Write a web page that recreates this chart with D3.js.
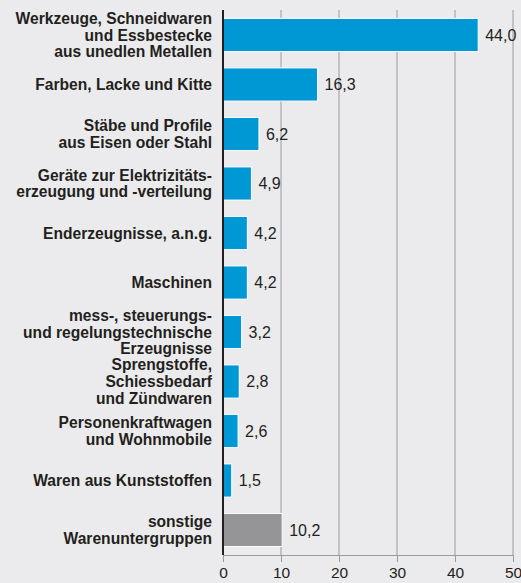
<!DOCTYPE html>
<html lang="de">
<head>
    <meta charset="UTF-8">
    <title>Warenuntergruppen</title>
    <script src="https://d3js.org/d3.v7.min.js"></script>
    <style>
        html, body {
            margin: 0;
            padding: 0;
            background: #ebebed;
        }
        svg {
            display: block;
            font-family: "Liberation Sans", Arial, Helvetica, sans-serif;
        }
        .cat-label {
            font-size: 15.6px;
            font-weight: bold;
            fill: #231f20;
        }
        .val-label {
            font-size: 16px;
            fill: #231f20;
        }
        .x-axis text {
            font-size: 15.5px;
            fill: #231f20;
            font-family: "Liberation Sans", Arial, Helvetica, sans-serif;
        }
    </style>
</head>
<body>
    <svg id="chart" width="521" height="583"></svg>

    <script>
        // Kategorien (Zeilenumbrüche wie im Original)
        const categories = [
            ["Werkzeuge, Schneidwaren", "und Essbestecke", "aus unedlen Metallen"],
            ["Farben, Lacke und Kitte"],
            ["Stäbe und Profile", "aus Eisen oder Stahl"],
            ["Geräte zur Elektrizitäts-", "erzeugung und -verteilung"],
            ["Enderzeugnisse, a.n.g."],
            ["Maschinen"],
            ["mess-, steuerungs-", "und regelungstechnische", "Erzeugnisse"],
            ["Sprengstoffe,", "Schiessbedarf", "und Zündwaren"],
            ["Personenkraftwagen", "und Wohnmobile"],
            ["Waren aus Kunststoffen"],
            ["sonstige", "Warenuntergruppen"]
        ];
        const values = [44.0, 16.3, 6.2, 4.9, 4.2, 4.2, 3.2, 2.8, 2.6, 1.5, 10.2];
        const isOther = [false, false, false, false, false, false, false, false, false, false, true];
        const xTicks = [0, 10, 20, 30, 40, 50];

        const margin = {top: 10, right: 8, bottom: 28, left: 223},
              width = 521 - margin.left - margin.right,
              height = 583 - margin.top - margin.bottom;

        const svg = d3.select("#chart")
            .append("g")
            .attr("transform", `translate(${margin.left},${margin.top})`);

        const x = d3.scaleLinear()
            .domain([0, 50])
            .range([0, 290]);

        const y = d3.scaleBand()
            .domain(d3.range(values.length))
            .range([0, height])
            .paddingInner(0.33)
            .paddingOuter(0.17);

        // Gitterlinien
        svg.selectAll(".grid")
            .data(xTicks.slice(1))
            .enter()
            .append("line")
            .attr("x1", d => x(d))
            .attr("x2", d => x(d))
            .attr("y1", 0)
            .attr("y2", height)
            .attr("stroke", "#9a9a9c")
            .attr("stroke-width", 1);

        // x-Achse
        const xAxis = svg.append("g")
            .attr("class", "x-axis")
            .attr("transform", `translate(0,${height})`)
            .call(d3.axisBottom(x).tickValues(xTicks).tickSize(7).tickPadding(5).tickFormat(d3.format("d")));
        xAxis.select(".domain").attr("stroke", "#9a9a9c");
        xAxis.selectAll(".tick line").attr("stroke", "#9a9a9c");

        // Balken
        svg.selectAll(".bar")
            .data(values)
            .enter()
            .append("rect")
            .attr("class", "bar")
            .attr("x", 0)
            .attr("y", (d, i) => y(i))
            .attr("width", d => x(d))
            .attr("height", y.bandwidth())
            .attr("fill", (d, i) => isOther[i] ? "#959597" : "#0098d4")
            .attr("stroke", "#ffffff")
            .attr("stroke-width", 1);

        // Werte
        const fmt = d => d.toFixed(1).replace(".", ",");
        svg.selectAll(".val-label")
            .data(values)
            .enter()
            .append("text")
            .attr("class", "val-label")
            .attr("x", d => x(d) + 7)
            .attr("y", (d, i) => y(i) + y.bandwidth() / 2)
            .attr("dy", "0.36em")
            .text(fmt);

        // Kategorien
        const lineH = 16.8;
        svg.selectAll(".cat-label")
            .data(categories)
            .enter()
            .append("text")
            .attr("class", "cat-label")
            .attr("text-anchor", "end")
            .attr("x", -11)
            .attr("y", (d, i) => y(i) + y.bandwidth() / 2)
            .each(function(lines) {
                const t = d3.select(this);
                const off = -(lines.length - 1) / 2 * lineH;
                lines.forEach((l, k) => {
                    t.append("tspan")
                        .attr("x", -11)
                        .attr("dy", k === 0 ? (off + 5.6) + "px" : lineH + "px")
                        .text(l);
                });
            });

        // Nulllinie
        svg.append("line")
            .attr("x1", 0)
            .attr("x2", 0)
            .attr("y1", 0)
            .attr("y2", height)
            .attr("stroke", "#231f20")
            .attr("stroke-width", 2);
    </script>
</body>
</html>
